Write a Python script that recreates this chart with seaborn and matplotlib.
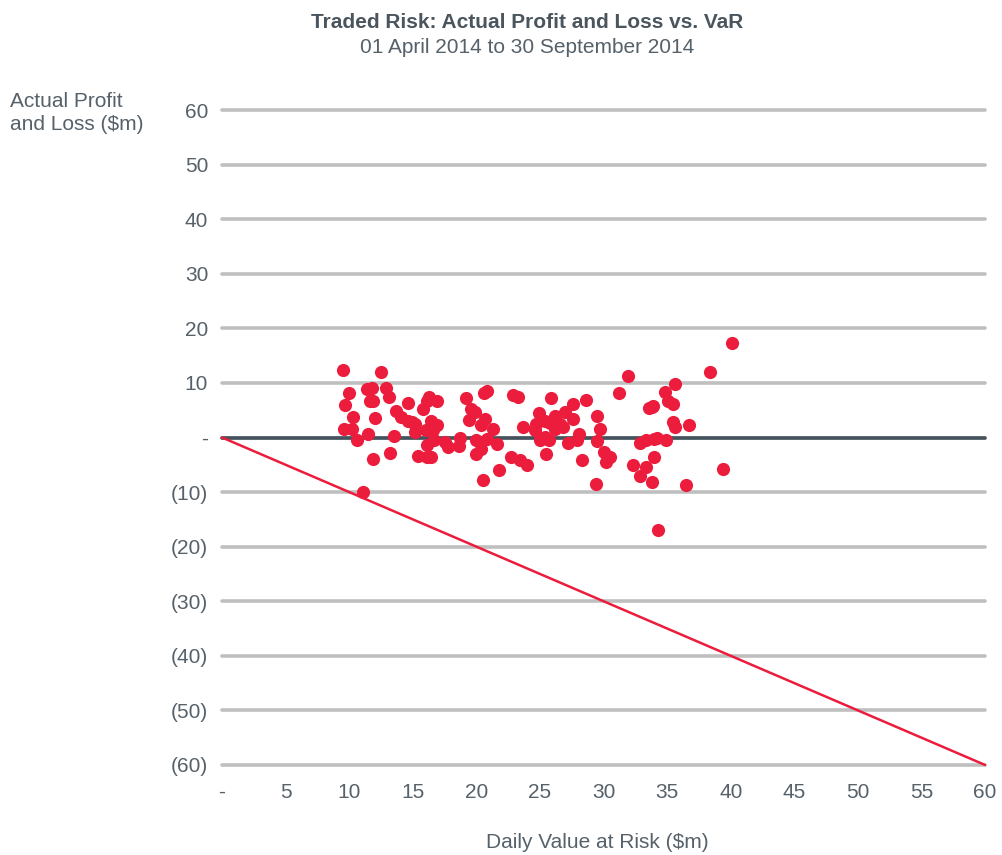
import matplotlib
matplotlib.use("Agg")
import matplotlib.pyplot as plt
import seaborn as sns
import pandas as pd

# Daily VaR ($m) vs actual P&L ($m)
var_values = [
    9.5, 12.5, 10.0, 11.4, 11.8, 12.9, 13.1, 11.6, 11.9, 9.7,
    14.6, 16.3, 16.9, 16.1, 15.8, 19.2, 20.8, 19.6, 19.9, 19.4,
    20.7, 20.4, 21.3, 10.3, 12.0, 13.7, 14.1, 14.6, 15.2, 16.4,
    9.6, 10.2, 10.6, 11.5, 13.5, 15.2, 16.0, 16.6, 16.7, 17.5,
    17.8, 18.7, 18.6, 20.0, 20.8, 21.6, 16.1, 20.4, 20.0, 13.2,
    11.9, 15.4, 16.1, 16.4, 20.5, 21.8, 11.1, 14.9, 16.9, 20.6,
    31.9, 22.9, 23.3, 25.9, 31.2, 27.6, 28.6, 33.8, 24.9, 26.2,
    27.0, 27.6, 24.7, 25.4, 26.6, 29.5, 23.7, 26.8, 29.7, 24.6,
    25.4, 25.7, 25.0, 28.1, 27.9, 27.2, 29.5, 33.3, 34.0, 30.0,
    30.5, 30.2, 22.7, 23.4, 24.0, 25.5, 28.3, 32.3, 33.3, 32.9,
    33.8, 29.4, 34.0, 40.1, 38.4, 35.6, 34.8, 35.1, 35.5, 33.6,
    33.9, 35.5, 35.6, 36.7, 34.2, 34.9, 36.5, 39.4, 34.3, 25.8,
    26.2, 32.9,
]
pnl_values = [
    12.4, 12.0, 8.2, 8.9, 9.1, 9.0, 7.5, 6.7, 6.7, 5.9,
    6.4, 7.4, 6.6, 6.6, 5.3, 7.3, 8.5, 5.3, 4.6, 3.2,
    3.4, 2.2, 1.5, 3.8, 3.6, 4.8, 3.8, 3.1, 2.5, 3.0,
    1.5, 1.5, -0.4, 0.7, 0.3, 1.0, 1.3, 1.3, -0.5, -0.9,
    -1.8, -0.1, -1.5, -0.4, -0.2, -1.2, -1.3, -2.1, -3.1, -2.8,
    -3.9, -3.3, -3.5, -3.6, -7.8, -5.9, -10.0, 2.8, 2.2, 8.2,
    11.3, 7.8, 7.5, 7.3, 8.2, 6.2, 6.8, 5.6, 4.5, 4.0,
    4.6, 3.3, 2.5, 3.0, 2.5, 4.0, 1.9, 1.9, 1.6, 1.3,
    0.1, -0.5, -0.4, 0.7, -0.4, -1.0, -0.7, -0.5, -0.2, -2.6,
    -3.6, -4.5, -3.6, -4.2, -5.1, -3.0, -4.2, -5.0, -5.4, -7.0,
    -8.2, -8.6, -3.5, 17.3, 12.0, 9.8, 8.4, 6.6, 6.2, 5.4,
    5.7, 2.8, 1.9, 2.3, -0.1, -0.4, -8.7, -5.7, -16.9, 2.6,
    1.6, -1.0,
]

# VaR boundary line (loss = VaR)
var_line_x = [0, 60]
var_line_y = [0, -60]

x_ticks = [0, 5, 10, 15, 20, 25, 30, 35, 40, 45, 50, 55, 60]
x_tick_labels = ["-", "5", "10", "15", "20", "25", "30", "35", "40", "45", "50", "55", "60"]
y_ticks = [60, 50, 40, 30, 20, 10, 0, -10, -20, -30, -40, -50, -60]
y_tick_labels = ["60", "50", "40", "30", "20", "10", "-", "(10)", "(20)", "(30)", "(40)", "(50)", "(60)"]

RED = "#EC1C3D"
TEXT = "#56616A"
FS = 15

sns.set_theme(style="white")
plt.rcParams['font.family'] = ['Liberation Sans', 'DejaVu Sans']

df = pd.DataFrame({"var": var_values, "pnl": pnl_values})
line_df = pd.DataFrame({"x": var_line_x, "y": var_line_y})

fig = plt.figure(figsize=(10.02, 8.55), dpi=100)
ax = fig.add_axes([0.2216, 0.1053, 0.7615, 0.766])

ax.set_xlim(0, 60)
ax.set_ylim(-60, 60)
ax.set_xticks(x_ticks)
ax.set_xticklabels(x_tick_labels)
ax.set_yticks(y_ticks)
ax.set_yticklabels(y_tick_labels)
ax.tick_params(axis="both", length=0, labelsize=FS, labelcolor=TEXT)
ax.tick_params(axis="y", pad=10)
ax.tick_params(axis="x", pad=13)

ax.yaxis.grid(True, color="#BFBFBF", linewidth=2.6)
ax.xaxis.grid(False)
for gl in ax.get_ygridlines():
    gl.set_clip_on(False)
ax.set_axisbelow(True)
for s in ax.spines.values():
    s.set_visible(False)

ax.axhline(0, color="#44535D", linewidth=2.6, zorder=1.5)

sns.lineplot(data=line_df, x="x", y="y", color=RED, linewidth=1.8, ax=ax, zorder=2)
sns.scatterplot(data=df, x="var", y="pnl", color=RED, s=90, linewidth=0, ax=ax, zorder=3)
for ln in ax.lines:
    ln.set_clip_on(False)

ax.set_xlabel("")
ax.set_ylabel("")

fig.text(0.526, 0.974, "Traded Risk: Actual Profit and Loss vs. VaR", ha="center", va="center",
         fontsize=FS, fontweight="bold", color="#4A555E")
fig.text(0.526, 0.944, "01 April 2014 to 30 September 2014", ha="center", va="center",
         fontsize=FS, color=TEXT)
fig.text(0.010, 0.868, "Actual Profit\nand Loss ($m)", ha="left", va="center",
         fontsize=FS, color=TEXT, linespacing=1.3)
fig.text(0.596, 0.015, "Daily Value at Risk ($m)", ha="center", va="center",
         fontsize=FS, color=TEXT)

fig.savefig("out.png", dpi=100)
